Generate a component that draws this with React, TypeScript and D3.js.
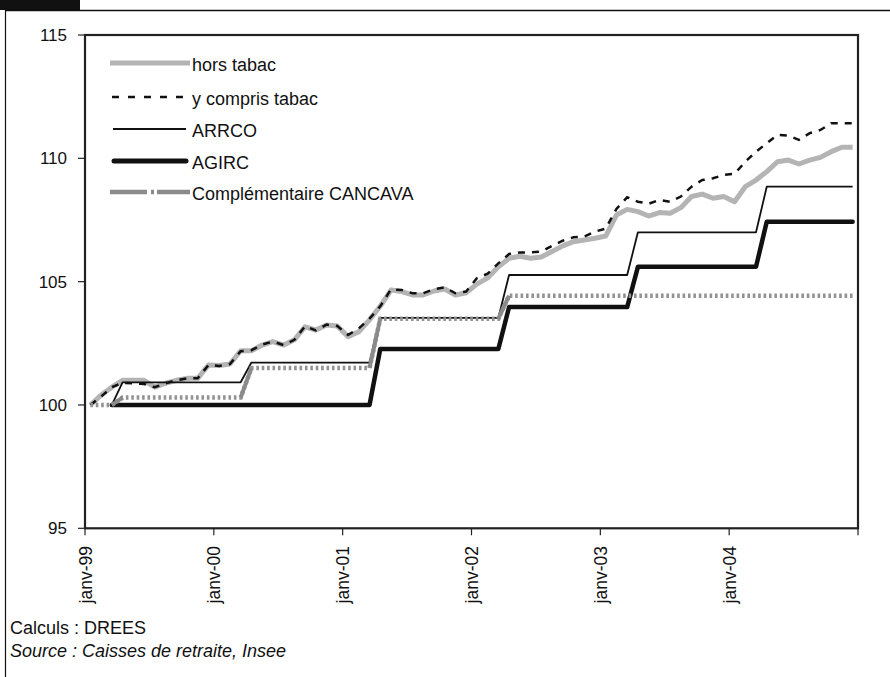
import React from 'react';
import * as d3 from 'd3';

const years = ['99', '00', '01', '02', '03', '04'];
const monthNames = ['janv', 'févr', 'mars', 'avr', 'mai', 'juin', 'juil', 'août', 'sept', 'oct', 'nov', 'déc'];
const categories: string[] = [];
years.forEach((y) => monthNames.forEach((m) => categories.push(`${m}-${y}`)));

const xTickLabels = ['janv-99', 'janv-00', 'janv-01', 'janv-02', 'janv-03', 'janv-04'];
const yTicks = [95, 100, 105, 110, 115];

const horsTabac = [
  100.0, 100.4, 100.72, 101.0, 101.0, 101.0, 100.72, 100.88, 101.0, 101.08, 101.08, 101.62,
  101.6, 101.66, 102.2, 102.2, 102.43, 102.57, 102.43, 102.64, 103.17, 103.04, 103.24, 103.2,
  102.77, 102.97, 103.45, 104.0, 104.66, 104.6, 104.46, 104.46, 104.62, 104.7, 104.46, 104.55,
  104.9, 105.15, 105.6, 105.95, 106.03, 105.95, 106.0, 106.22, 106.45, 106.62, 106.69, 106.76,
  106.85, 107.7, 107.93, 107.84, 107.66, 107.8, 107.77, 108.0, 108.45, 108.55, 108.38, 108.45,
  108.24, 108.85, 109.12, 109.46, 109.86, 109.93, 109.77, 109.93, 110.04, 110.27, 110.45, 110.45,
];

const yComprisTabac = [
  100.0, 100.34, 100.72, 100.9, 100.88, 100.85, 100.72, 100.88, 101.0, 101.08, 101.08, 101.62,
  101.58, 101.66, 102.18, 102.22, 102.45, 102.57, 102.43, 102.64, 103.2, 103.02, 103.26, 103.2,
  102.84, 103.1, 103.5, 104.0, 104.69, 104.66, 104.53, 104.53, 104.69, 104.77, 104.53, 104.6,
  105.14, 105.32, 105.74, 106.12, 106.18, 106.19, 106.22, 106.45, 106.66, 106.8, 106.83, 107.03,
  107.15, 107.95, 108.42, 108.24, 108.16, 108.31, 108.24, 108.45, 108.85, 109.12, 109.19, 109.33,
  109.37, 109.86, 110.27, 110.61, 110.95, 110.92, 110.75, 111.02, 111.15, 111.42, 111.42, 111.42,
];

const arrco: (number | null)[] = [
  null, null, 100.0, 100.92, 100.92, 100.92, 100.92, 100.92, 100.92, 100.92, 100.92, 100.92,
  100.92, 100.92, 100.92, 101.72, 101.72, 101.72, 101.72, 101.72, 101.72, 101.72, 101.72, 101.72,
  101.72, 101.72, 101.72, 103.53, 103.53, 103.53, 103.53, 103.53, 103.53, 103.53, 103.53, 103.53,
  103.53, 103.53, 103.53, 105.27, 105.27, 105.27, 105.27, 105.27, 105.27, 105.27, 105.27, 105.27,
  105.27, 105.27, 105.27, 107.0, 107.0, 107.0, 107.0, 107.0, 107.0, 107.0, 107.0, 107.0,
  107.0, 107.0, 107.0, 108.85, 108.85, 108.85, 108.85, 108.85, 108.85, 108.85, 108.85, 108.85,
];

const agirc: (number | null)[] = [
  null, null, 100.0, 100.0, 100.0, 100.0, 100.0, 100.0, 100.0, 100.0, 100.0, 100.0,
  100.0, 100.0, 100.0, 100.0, 100.0, 100.0, 100.0, 100.0, 100.0, 100.0, 100.0, 100.0,
  100.0, 100.0, 100.0, 102.27, 102.27, 102.27, 102.27, 102.27, 102.27, 102.27, 102.27, 102.27,
  102.27, 102.27, 102.27, 103.97, 103.97, 103.97, 103.97, 103.97, 103.97, 103.97, 103.97, 103.97,
  103.97, 103.97, 103.97, 105.6, 105.6, 105.6, 105.6, 105.6, 105.6, 105.6, 105.6, 105.6,
  105.6, 105.6, 105.6, 107.43, 107.43, 107.43, 107.43, 107.43, 107.43, 107.43, 107.43, 107.43,
];

const cancava = [
  100.0, 100.0, 100.0, 100.3, 100.3, 100.3, 100.3, 100.3, 100.3, 100.3, 100.3, 100.3,
  100.3, 100.3, 100.3, 101.5, 101.5, 101.5, 101.5, 101.5, 101.5, 101.5, 101.5, 101.5,
  101.5, 101.5, 101.5, 103.5, 103.5, 103.5, 103.5, 103.5, 103.5, 103.5, 103.5, 103.5,
  103.5, 103.5, 103.5, 104.43, 104.43, 104.43, 104.43, 104.43, 104.43, 104.43, 104.43, 104.43,
  104.43, 104.43, 104.43, 104.43, 104.43, 104.43, 104.43, 104.43, 104.43, 104.43, 104.43, 104.43,
  104.43, 104.43, 104.43, 104.43, 104.43, 104.43, 104.43, 104.43, 104.43, 104.43, 104.43, 104.43,
];

const legendLabels = ['hors tabac', 'y compris tabac', 'ARRCO', 'AGIRC', 'Complémentaire CANCAVA'];

const FONT = '"Liberation Sans", Arial, Helvetica, sans-serif';
const L = 85, R = 858, T = 35, B = 528.3;
const INK = '#111';

export default function App() {
  const band = d3.scaleBand<string>().domain(categories).range([L, R]);
  const xp = d3.scalePoint<string>().domain(categories).range([L, R]).padding(0.5);
  const y = d3.scaleLinear().domain([95, 115]).range([B, T]);

  const mk = (vals: (number | null)[]) =>
    d3
      .line<number | null>()
      .defined((d) => d !== null)
      .x((_, i) => xp(categories[i]) as number)
      .y((d) => y(d as number))(vals) as string;

  const cancavaJumps: string[] = [];
  for (let i = 1; i < cancava.length; i++) {
    if (cancava[i] !== cancava[i - 1]) {
      cancavaJumps.push(
        d3.line<number>().x((_, k) => xp(categories[i - 1 + k]) as number).y((d) => y(d))([cancava[i - 1], cancava[i]]) as string
      );
    }
  }

  const tickXs = [...xTickLabels.map((_, k) => band(categories[k * 12]) as number), R];
  const legendY = [63, 97, 129, 161, 192];

  return (
    <svg
      width={890}
      height={677}
      style={{ position: 'absolute', left: 0, top: 0, background: '#fff' }}
      fontFamily={FONT}
    >
      <rect x={0} y={0} width={80} height={10} fill="#111" />
      <line x1={5} x2={890} y1={10.5} y2={10.5} stroke="#111" strokeWidth={1.6} />
      <line x1={5.5} x2={5.5} y1={10} y2={677} stroke="#111" strokeWidth={1.2} />

      <rect x={L} y={T} width={R - L} height={B - T} fill="none" stroke="#222" strokeWidth={2.2} />

      {yTicks.map((t) => (
        <g key={t}>
          <line x1={L - 7} x2={L} y1={y(t)} y2={y(t)} stroke="#222" strokeWidth={1.2} />
          <text x={67} y={y(t)} dy="0.36em" textAnchor="end" fontSize={17} fill={INK}>
            {t}
          </text>
        </g>
      ))}

      {tickXs.map((tx, k) => (
        <line key={k} x1={tx} x2={tx} y1={B} y2={B + 7} stroke="#222" strokeWidth={1.2} />
      ))}
      {xTickLabels.map((lab, k) => (
        <text
          key={lab}
          transform={`translate(${tickXs[k] + 6.5},${546}) rotate(-90)`}
          textAnchor="end"
          fontSize={17.5}
          fill={INK}
        >
          {lab}
        </text>
      ))}

      <path d={mk(horsTabac)} fill="none" stroke="#b4b4b4" strokeWidth={5} strokeLinejoin="round" />
      <path d={mk(yComprisTabac)} fill="none" stroke="#111" strokeWidth={2.5} strokeDasharray="7,7" />
      <path d={mk(arrco)} fill="none" stroke="#111" strokeWidth={1.8} strokeLinejoin="round" />
      <path d={mk(agirc)} fill="none" stroke="#111" strokeWidth={4.5} strokeLinejoin="round" strokeLinecap="round" />
      <path d={mk(cancava)} fill="none" stroke="#929292" strokeWidth={4.5} strokeDasharray="2.6,2.8" />
      {cancavaJumps.map((d, k) => (
        <path key={k} d={d} fill="none" stroke="#8a8a8a" strokeWidth={4} />
      ))}

      <g>
        <line x1={110} x2={190} y1={legendY[0]} y2={legendY[0]} stroke="#b4b4b4" strokeWidth={5} />
        <line x1={112} x2={190} y1={legendY[1]} y2={legendY[1]} stroke="#111" strokeWidth={2.5} strokeDasharray="7,9" />
        <line x1={113} x2={186} y1={legendY[2]} y2={legendY[2]} stroke="#111" strokeWidth={1.8} />
        <line x1={114} x2={186} y1={legendY[3]} y2={legendY[3]} stroke="#111" strokeWidth={5} strokeLinecap="round" />
        <line x1={110} x2={190} y1={legendY[4]} y2={legendY[4]} stroke="#8a8a8a" strokeWidth={4.5} strokeDasharray="37,4,3,3" />
        {legendLabels.map((lab, k) => (
          <text key={lab} x={192} y={legendY[k] + 8} fontSize={18} fill={INK}>
            {lab}
          </text>
        ))}
      </g>

      <text x={10} y={634} fontSize={18} fill={INK}>
        Calculs : DREES
      </text>
      <text x={10} y={657} fontSize={18} fill={INK} fontStyle="italic">
        Source : Caisses de retraite, Insee
      </text>
    </svg>
  );
}
